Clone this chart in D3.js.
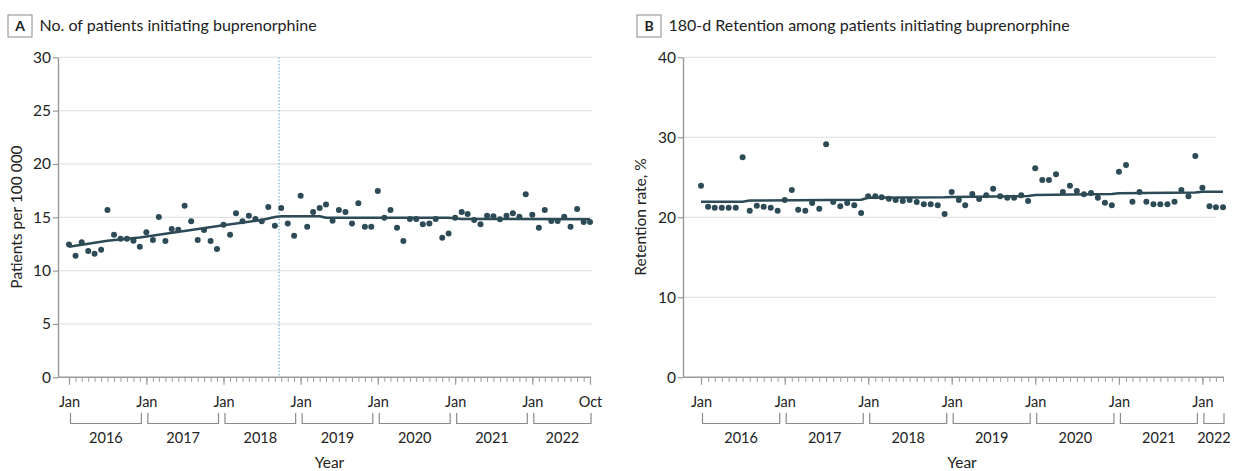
<!DOCTYPE html>
<html>
<head>
<meta charset="utf-8">
<script src="https://cdn.jsdelivr.net/npm/d3@7"></script>
<style>
  html, body { margin: 0; padding: 0; background: #fff; }
  svg { display: block; font-family: Lato, "Open Sans", sans-serif; }
</style>
</head>
<body>
<svg id="chart" width="1237" height="471"></svg>
<script>
// ---------------- DATA ----------------
const startMonth = "2016-01";
// Panel A: patients initiating buprenorphine per 100 000, monthly Jan 2016 - Oct 2022
const endMonthA = "2022-10";
const patientsA = [
  12.46, 11.40, 12.65, 11.84, 11.59, 11.96, 15.68, 13.37, 12.99, 12.99, 12.80, 12.24,
  13.59, 12.87, 15.02, 12.77, 13.90, 13.84, 16.09, 14.62, 12.87, 13.81, 12.77, 12.02,
  14.30, 13.37, 15.37, 14.62, 15.15, 14.84, 14.62, 15.96, 14.21, 15.87, 14.43, 13.27,
  17.02, 14.12, 15.49, 15.87, 16.21, 14.68, 15.68, 15.49, 14.43, 16.31, 14.12, 14.12,
  17.46, 14.96, 15.68, 14.03, 12.77, 14.84, 14.84, 14.34, 14.43, 14.84, 13.09, 13.49,
  14.96, 15.49, 15.30, 14.74, 14.34, 15.15, 15.09, 14.81, 15.15, 15.37, 15.05, 17.15,
  15.24, 14.03, 15.68, 14.65, 14.65, 15.05, 14.12, 15.77, 14.55, 14.55
];
const trendA = [
  ["2016-01", 12.24], ["2016-07", 12.80], ["2016-12", 13.10], ["2017-08", 13.80],
  ["2018-01", 14.25], ["2018-07", 14.75], ["2018-09", 15.02], ["2018-10", 15.10],
  ["2019-04", 15.10], ["2019-05", 14.95], ["2020-12", 14.95], ["2021-02", 14.84],
  ["2022-10", 14.82]
];
const eventDateA = "2018-09-21";

// Panel B: 180-day retention (%), monthly Jan 2016 - Apr 2022
const endMonthB = "2022-04";
const retentionB = [
  23.95, 21.33, 21.20, 21.20, 21.20, 21.20, 27.50, 20.83, 21.45, 21.33, 21.20, 20.83,
  22.16, 23.41, 20.95, 20.83, 21.79, 21.08, 29.12, 21.91, 21.37, 21.79, 21.50, 20.54,
  22.62, 22.62, 22.50, 22.33, 22.16, 22.04, 22.16, 21.91, 21.62, 21.62, 21.50, 20.41,
  23.16, 22.16, 21.50, 22.91, 22.29, 22.75, 23.58, 22.62, 22.45, 22.45, 22.75, 22.04,
  26.12, 24.66, 24.66, 25.37, 23.16, 23.95, 23.29, 22.87, 23.04, 22.45, 21.83, 21.50,
  25.70, 26.54, 21.95, 23.16, 21.95, 21.62, 21.62, 21.62, 21.95, 23.41, 22.62, 27.66,
  23.70, 21.37, 21.25, 21.25
];
const trendB = [
  ["2016-01", 21.95], ["2016-07", 21.95], ["2016-08", 22.10], ["2017-12", 22.20],
  ["2018-01", 22.45], ["2018-12", 22.50], ["2019-01", 22.55], ["2019-12", 22.65],
  ["2020-01", 22.80], ["2020-12", 22.90], ["2021-01", 23.00], ["2021-12", 23.10],
  ["2022-01", 23.20], ["2022-04", 23.20]
];

const yTicksA = [0, 5, 10, 15, 20, 25, 30];
const yTicksB = [0, 10, 20, 30, 40];
const years = [2016, 2017, 2018, 2019, 2020, 2021, 2022];

const titleA = "No. of patients initiating buprenorphine";
const titleB = "180-d Retention among patients initiating buprenorphine";
const yLabelA = "Patients per 100 000";
const yLabelB = "Retention rate, %";
const xLabel = "Year";

// ---------------- DRAW ----------------
const parseM = d3.timeParse("%Y-%m");
const parseD = d3.timeParse("%Y-%m-%d");
const svg = d3.select("#chart");

const C = {
  dot: "#2d4b56",
  axis: "#999999",
  grid: "#e3e3e3",
  text: "#222222",
  event: "#7db2d6"
};

function panel(cfg) {
  const g = svg.append("g");
  const start = parseM(startMonth), end = parseM(cfg.endMonth);
  const months = d3.timeMonth.range(start, d3.timeMonth.offset(end, 1));
  const x = d3.scaleTime().domain([start, end]).range(cfg.xRange);
  const y = d3.scaleLinear().domain(cfg.yDomain).range([377.3, 57.3]);

  // panel letter box and title
  g.append("rect").attr("x", cfg.boxX).attr("y", 15).attr("width", 24).attr("height", 22)
    .attr("fill", "#fff").attr("stroke", "#8a8a8a").attr("stroke-width", 1);
  g.append("text").attr("x", cfg.boxX + 12).attr("y", 31).attr("text-anchor", "middle")
    .attr("font-size", 14).attr("font-weight", 700).attr("fill", C.text).text(cfg.letter);
  g.append("text").attr("x", cfg.boxX + 31.5).attr("y", 31)
    .attr("font-size", 16).attr("fill", C.text).text(cfg.title);

  // gridlines
  g.append("g").selectAll("line").data(cfg.yTicks.filter(d => d > 0)).join("line")
    .attr("x1", cfg.axisX).attr("x2", cfg.gridEnd)
    .attr("y1", d => y(d)).attr("y2", d => y(d))
    .attr("stroke", C.grid).attr("stroke-width", 1.3);

  // event line
  if (cfg.event) {
    const ex = x(parseD(cfg.event));
    g.append("line").attr("x1", ex).attr("x2", ex).attr("y1", y(cfg.yDomain[1])).attr("y2", y(0))
      .attr("stroke", C.event).attr("stroke-width", 1.2).attr("stroke-dasharray", "1.5,1.8");
  }

  // y axis
  const ya = g.append("g").attr("transform", `translate(${cfg.axisX},0)`)
    .call(d3.axisLeft(y).tickValues(cfg.yTicks).tickSize(5).tickSizeOuter(0).tickPadding(2));
  ya.select(".domain").attr("stroke", C.axis).attr("stroke-width", 1.4);
  ya.selectAll(".tick line").attr("stroke", C.axis).attr("stroke-width", 1.2);
  ya.selectAll(".tick text").attr("font-size", 15.5).attr("fill", C.text)
    .attr("font-family", "Lato, sans-serif");

  // x axis baseline
  g.append("line").attr("x1", cfg.axisX).attr("x2", cfg.xRange[1] + 1)
    .attr("y1", y(0)).attr("y2", y(0)).attr("stroke", C.axis).attr("stroke-width", 1.4);

  // minor monthly ticks
  const xaMinor = g.append("g").attr("transform", `translate(0,${y(0)})`)
    .call(d3.axisBottom(x).tickValues(months).tickSize(4.5).tickFormat(""));
  xaMinor.select(".domain").remove();
  xaMinor.selectAll(".tick line").attr("stroke", C.axis).attr("stroke-width", 1);

  // major ticks
  const majors = months.filter(m => m.getMonth() === 0);
  if (cfg.endLabel) majors.push(end);
  const xaMajor = g.append("g").attr("transform", `translate(0,${y(0)})`)
    .call(d3.axisBottom(x).tickValues(majors).tickSize(7.5).tickPadding(11.5)
      .tickFormat(d3.timeFormat("%b")));
  xaMajor.select(".domain").remove();
  xaMajor.selectAll(".tick line").attr("stroke", C.axis).attr("stroke-width", 1.2);
  xaMajor.selectAll(".tick text").attr("font-size", 14.5).attr("fill", C.text)
    .attr("font-family", "Lato, sans-serif");

  // year brackets
  const br = g.append("g");
  years.forEach(yr => {
    const a = new Date(yr, 0, 1);
    let b = new Date(yr + 1, 0, 1);
    if (b > end) b = end;
    const x0 = x(a) + 1.5;
    const x1 = (b.getTime() === end.getTime()) ? x(b) + 1 : x(b) - 5;
    br.append("path").attr("d", `M${x0},413V423.5H${x1}V413`)
      .attr("fill", "none").attr("stroke", "#8a8a8a").attr("stroke-width", 1.2);
    br.append("text").attr("x", (x0 + x1) / 2).attr("y", 443).attr("text-anchor", "middle")
      .attr("font-size", 14.5).attr("fill", C.text).text(yr);
  });

  // axis titles
  g.append("text").attr("x", (cfg.xRange[0] + cfg.xRange[1]) / 2).attr("y", 468)
    .attr("text-anchor", "middle").attr("font-size", 15.5).attr("fill", C.text).text(xLabel);
  g.append("text").attr("transform", `translate(${cfg.yLabelX},217) rotate(-90)`)
    .attr("text-anchor", "middle").attr("font-size", 15.5).attr("fill", C.text).text(cfg.yLabel);

  // trend line
  const line = d3.line().x(d => x(parseM(d[0]))).y(d => y(d[1]));
  g.append("path").datum(cfg.trend).attr("d", line)
    .attr("fill", "none").attr("stroke", C.dot).attr("stroke-width", 2.5)
    .attr("stroke-linejoin", "round");

  // points
  g.append("g").selectAll("circle").data(cfg.values).join("circle")
    .attr("cx", (d, i) => x(months[i])).attr("cy", d => y(d))
    .attr("r", 3).attr("fill", C.dot);
}

panel({
  letter: "A", title: titleA, boxX: 8, axisX: 58, xRange: [69, 590], gridEnd: 592,
  yDomain: [0, 30], yTicks: yTicksA, endMonth: endMonthA, endLabel: true,
  values: patientsA, trend: trendA, event: eventDateA, yLabel: yLabelA, yLabelX: 21.5
});
panel({
  letter: "B", title: titleB, boxX: 637, axisX: 683, xRange: [701, 1223], gridEnd: 1216,
  yDomain: [0, 40], yTicks: yTicksB, endMonth: endMonthB, endLabel: false,
  values: retentionB, trend: trendB, event: null, yLabel: yLabelB, yLabelX: 646
});
</script>
</body>
</html>
